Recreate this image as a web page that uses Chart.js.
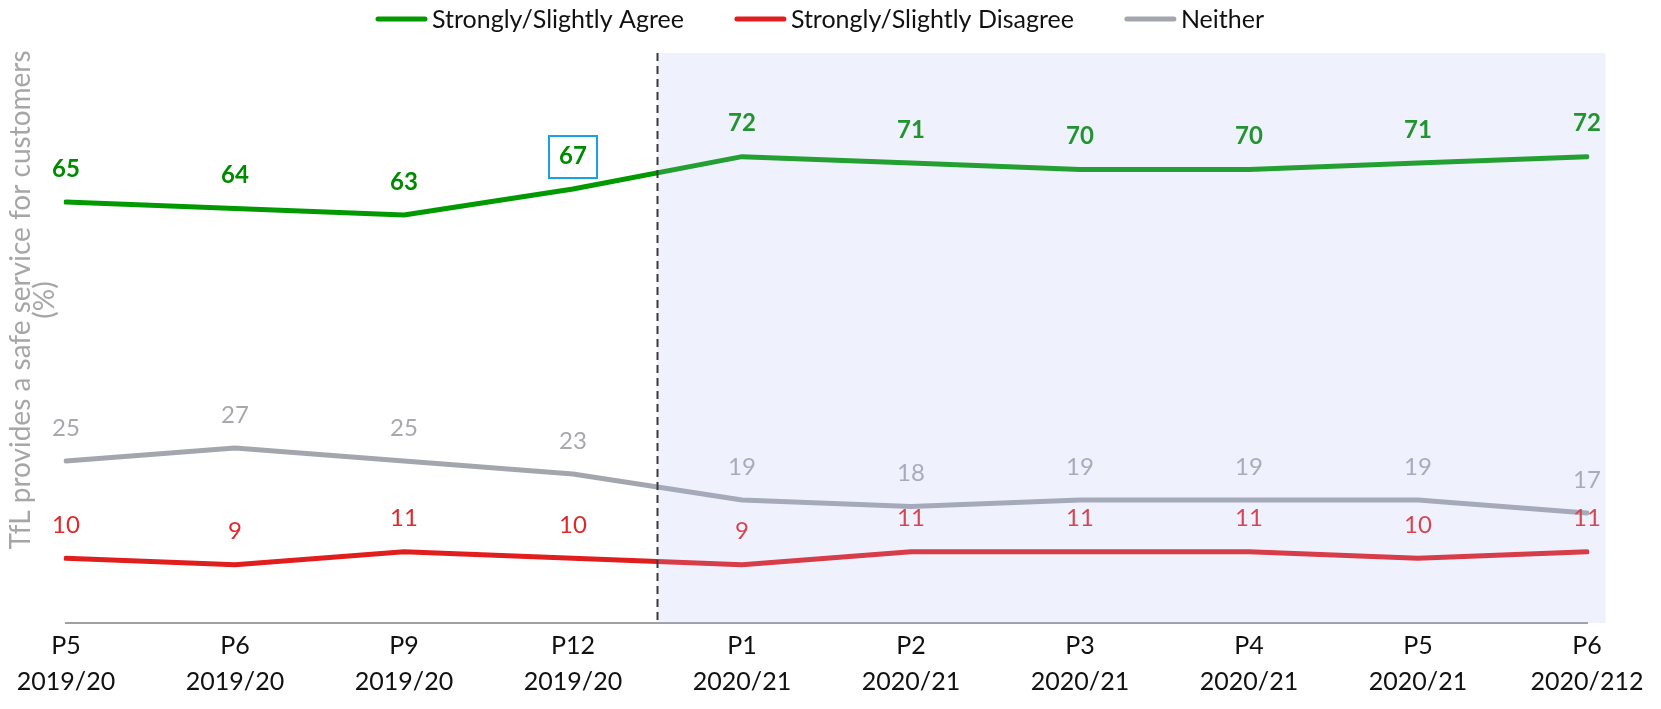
<!DOCTYPE html>
<html lang="en">
<head>
<meta charset="UTF-8" />
<title>TfL provides a safe service for customers</title>
<script src="https://cdn.jsdelivr.net/npm/chart.js"></script>
<style>
  html, body { margin: 0; padding: 0; background: #fff; }
  #wrap { width: 1661px; height: 709px; }
</style>
</head>
<body>
<div id="wrap"><canvas id="chart" width="1661" height="709"></canvas></div>
<script>
  // data
  const periods = [
    ["P5", "2019/20"], ["P6", "2019/20"], ["P9", "2019/20"], ["P12", "2019/20"],
    ["P1", "2020/21"], ["P2", "2020/21"], ["P3", "2020/21"], ["P4", "2020/21"],
    ["P5", "2020/21"], ["P6", "2020/212"]
  ];
  const agree    = [65, 64, 63, 67, 72, 71, 70, 70, 71, 72];
  const disagree = [10, 9, 11, 10, 9, 11, 11, 11, 10, 11];
  const neither  = [25, 27, 25, 23, 19, 18, 19, 19, 19, 17];
  const yTitle = ["TfL provides a safe service for customers", "(%)"];
  const boxedPoint = { dataset: 0, index: 3 };
  const splitAfter = 3; // dashed line between P12 and P1

  const FONT = "Lato, 'Open Sans', sans-serif";

  // value labels above each point
  const valueLabels = {
    id: "valueLabels",
    afterDatasetsDraw(chart) {
      const ctx = chart.ctx;
      ctx.save();
      ctx.textAlign = "center";
      ctx.textBaseline = "middle";
      chart.data.datasets.forEach((ds, di) => {
        const meta = chart.getDatasetMeta(di);
        ctx.fillStyle = ds.labelColor;
        ctx.font = (ds.labelBold ? "bold " : "") + "24px " + FONT;
        meta.data.forEach((pt, i) => {
          ctx.fillText(String(ds.data[i]), pt.x, pt.y - 33);
        });
      });

      // box around highlighted value
      const p = chart.getDatasetMeta(boxedPoint.dataset).data[boxedPoint.index];
      ctx.strokeStyle = "#1ba1e2";
      ctx.lineWidth = 2;
      ctx.strokeRect(p.x - 24, p.y - 53, 48, 42);

      // shaded period (drawn over lines, as in the original)
      const xs = chart.scales.x, area = chart.chartArea;
      const step = xs.getPixelForValue(1) - xs.getPixelForValue(0);
      const x0 = xs.getPixelForValue(splitAfter) + step / 2;
      const x1 = xs.getPixelForValue(periods.length - 1) + step * 0.11;
      ctx.fillStyle = "rgba(175,185,245,0.2)";
      ctx.fillRect(x0, area.top, x1 - x0, area.bottom - area.top);

      // dashed divider
      ctx.strokeStyle = "#3a3a3a";
      ctx.lineWidth = 2;
      ctx.setLineDash([8, 5]);
      ctx.beginPath();
      ctx.moveTo(x0, area.top);
      ctx.lineTo(x0, area.bottom);
      ctx.stroke();
      ctx.restore();
    }
  };

  // legend at top + rotated axis title
  const extras = {
    id: "extras",
    afterDraw(chart) {
      const ctx = chart.ctx;
      ctx.save();
      ctx.font = "25px " + FONT;
      ctx.textBaseline = "middle";
      const lineLen = 51, gapText = 5, gapItem = 51;
      const items = chart.data.datasets.map(ds => ({ text: ds.label, color: ds.borderColor, w: ctx.measureText(ds.label).width }));
      const total = items.reduce((s, it) => s + lineLen + gapText + it.w, 0) + gapItem * (items.length - 1);
      let x = 820 - total / 2;
      const y = 19;
      items.forEach(it => {
        ctx.strokeStyle = it.color;
        ctx.lineWidth = 5;
        ctx.lineCap = "round";
        ctx.beginPath();
        ctx.moveTo(x + 2, y);
        ctx.lineTo(x + lineLen - 2, y);
        ctx.stroke();
        ctx.fillStyle = "#111";
        ctx.textAlign = "left";
        ctx.fillText(it.text, x + lineLen + gapText, y + 1);
        x += lineLen + gapText + it.w + gapItem;
      });

      // y axis title
      ctx.font = "28px " + FONT;
      ctx.translate(0, 300);
      ctx.rotate(-Math.PI / 2);
      ctx.fillStyle = "#a6a6a6";
      ctx.textAlign = "center";
      ctx.fillText(yTitle[0], 0, 21);
      ctx.fillText(yTitle[1], 0, 45);
      ctx.restore();
    }
  };

  new Chart(document.getElementById("chart"), {
    type: "line",
    data: {
      labels: periods,
      datasets: [
        { label: "Strongly/Slightly Agree", data: agree, borderColor: "#009a00", labelColor: "#008a00", labelBold: true },
        { label: "Strongly/Slightly Disagree", data: disagree, borderColor: "#e01e1e", labelColor: "#e0282a", labelBold: false },
        { label: "Neither", data: neither, borderColor: "#a3a7ad", labelColor: "#a6a8ae", labelBold: false }
      ].map(d => Object.assign(d, {
        borderWidth: 5, pointRadius: 0, tension: 0, fill: false,
        borderCapStyle: "round", borderJoinStyle: "round"
      }))
    },
    options: {
      responsive: false,
      animation: false,
      layout: { padding: { left: 66, right: 74, top: 53, bottom: 0 } },
      plugins: { legend: { display: false }, tooltip: { enabled: false } },
      scales: {
        x: {
          offset: false,
          grid: { display: false, drawTicks: false },
          border: { display: true, color: "#a0a0a0", width: 2 },
          ticks: { color: "#111", padding: 5, maxRotation: 0, autoSkip: false, font: { family: FONT, size: 25, lineHeight: 1.44 } },
          afterFit(scale) { scale.height = 86; }
        },
        y: { display: false, min: 0, max: 88 }
      }
    },
    plugins: [valueLabels, extras]
  });
</script>
</body>
</html>
